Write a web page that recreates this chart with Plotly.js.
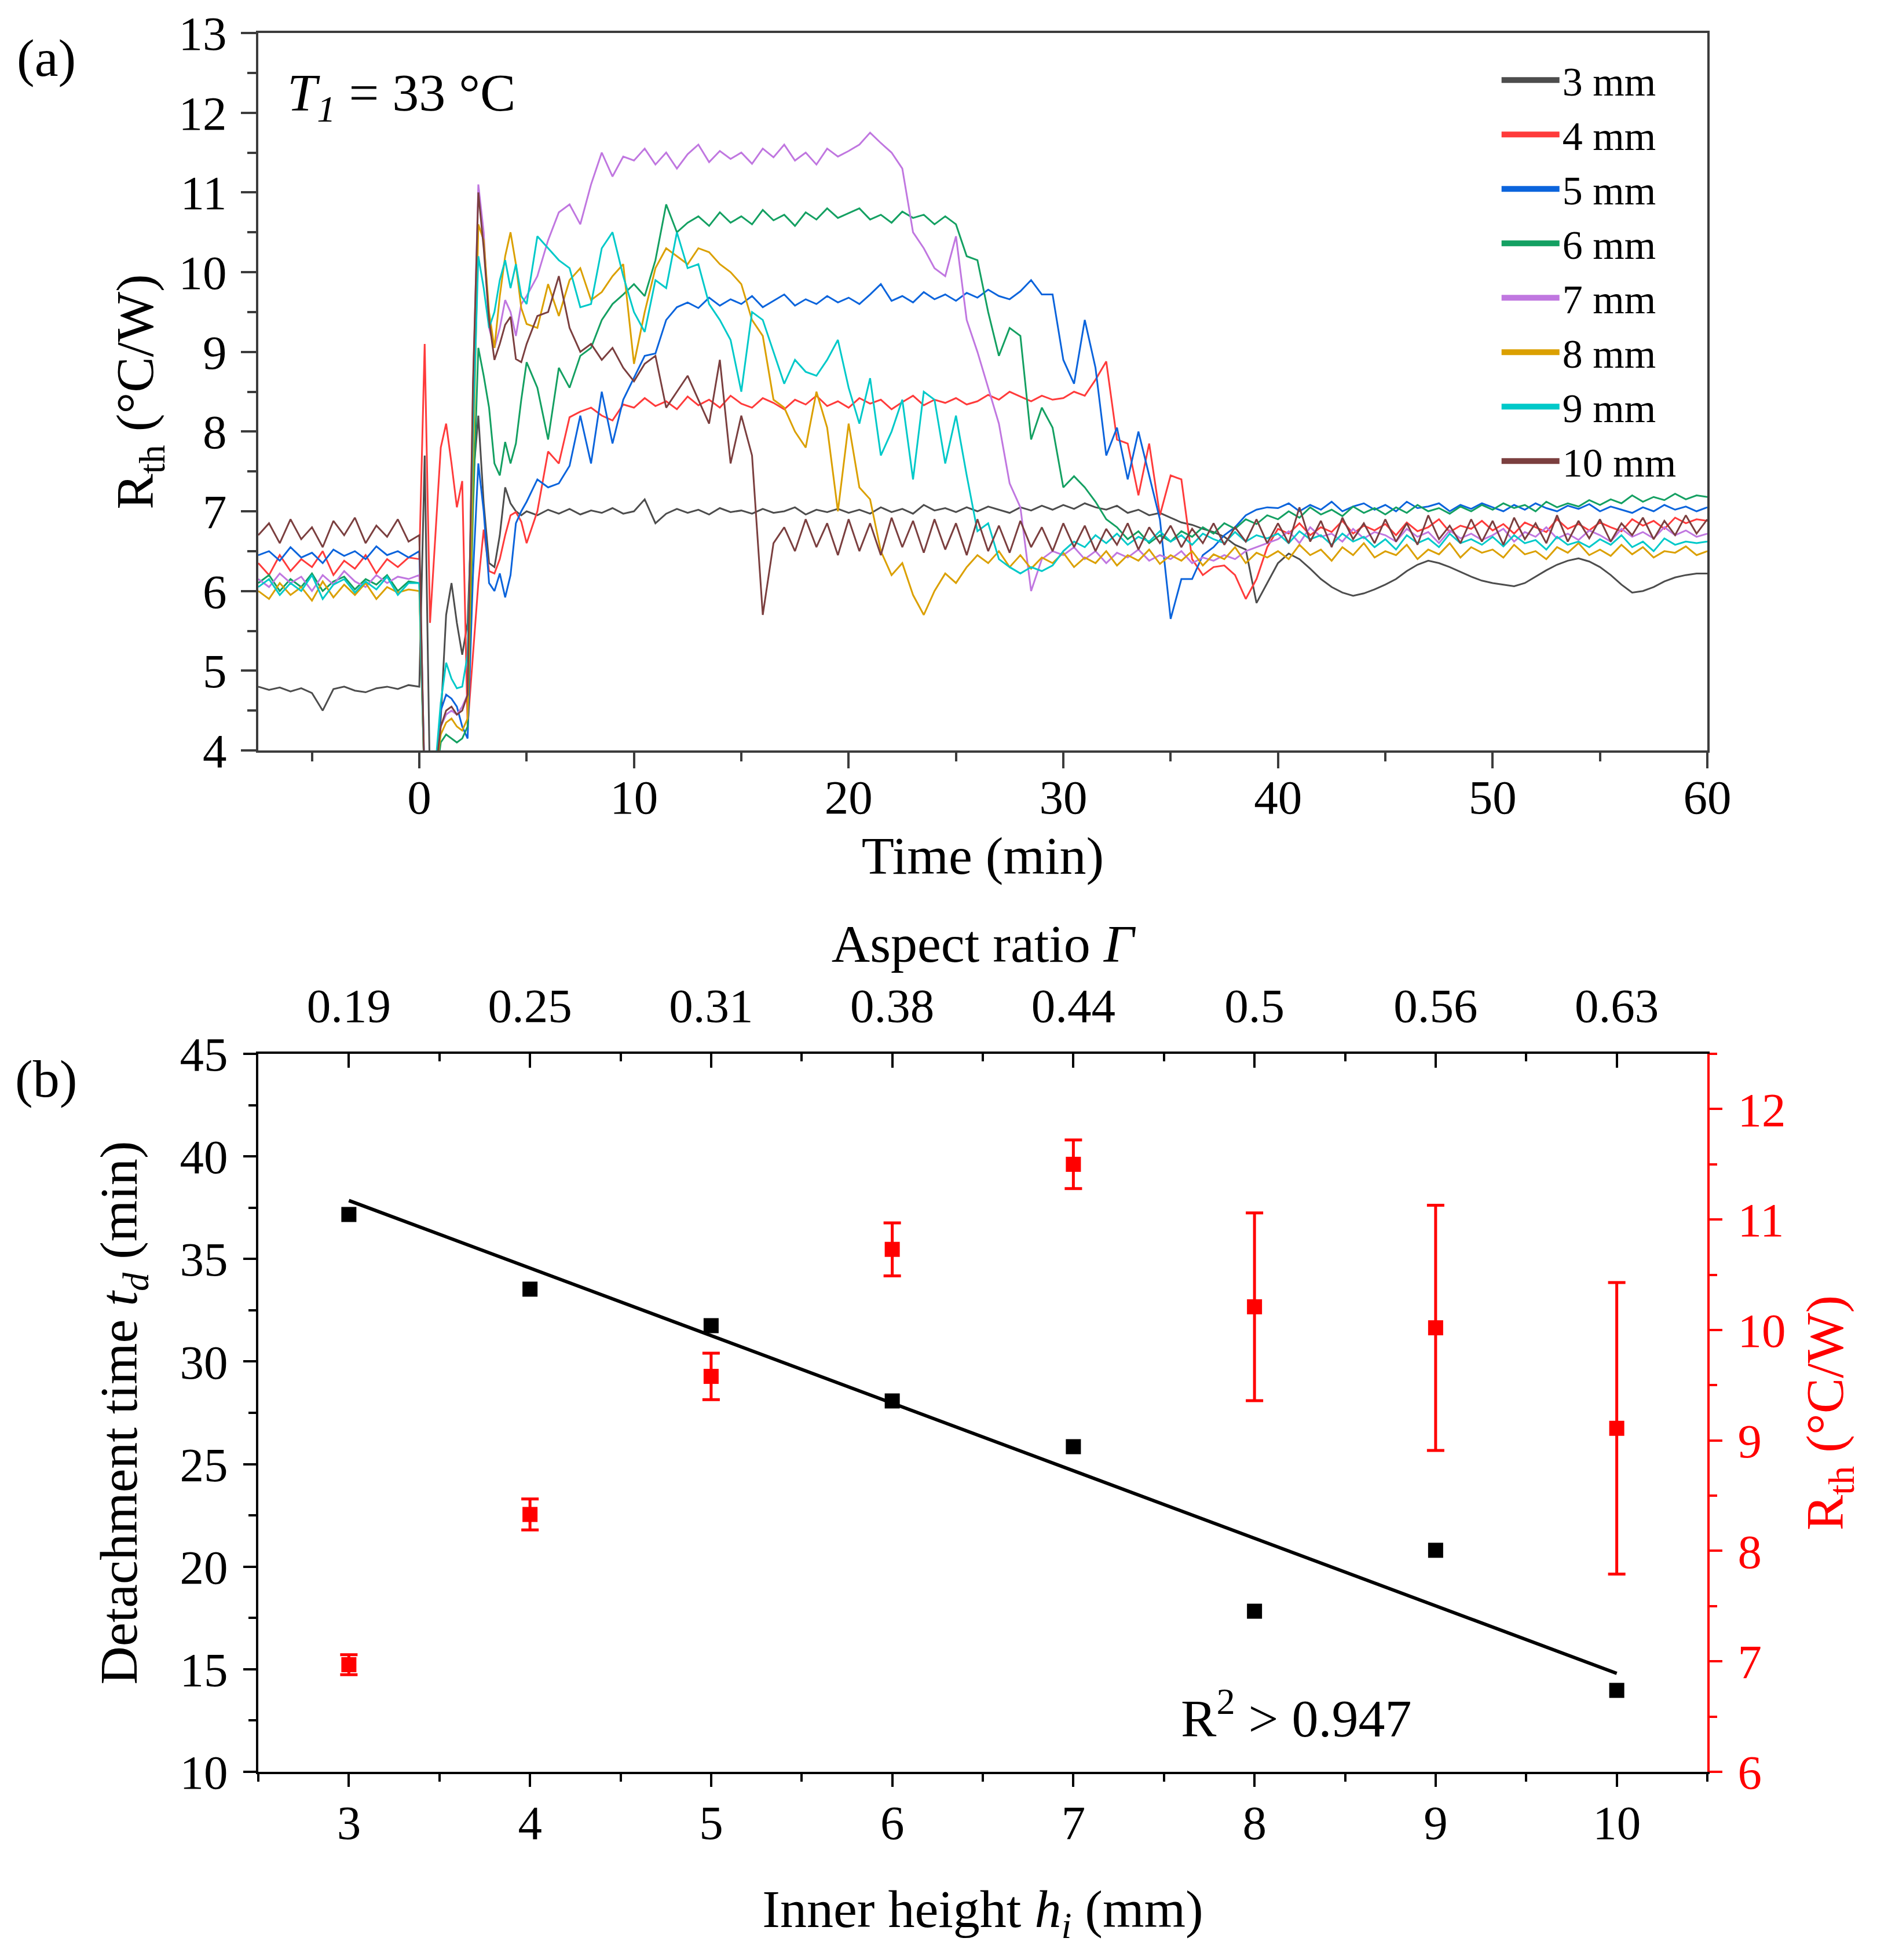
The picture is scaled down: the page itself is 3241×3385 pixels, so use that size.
<!DOCTYPE html>
<html><head><meta charset="utf-8">
<script src="https://cdn.plot.ly/plotly-3.0.1.min.js"></script>
<style>html,body{margin:0;padding:0;background:#fff}#chart{width:3241px;height:3385px}</style>
</head><body><div id="chart"></div>
<script>
// ---------- Panel (a): Rth vs time ----------
const time = [-7.5,-7,-6.5,-6,-5.5,-5,-4.5,-4,-3.5,-3,-2.5,-2,-1.5,-1,-0.5,
0,0.25,0.5,0.75,1,1.25,1.5,1.75,2,2.25,2.5,2.75,3,3.25,3.5,3.75,4,4.25,4.5,4.75,
5,5.5,6,6.5,7,7.5,8,8.5,9,9.5,
10,10.5,11,11.5,12,12.5,13,13.5,14,14.5,
15,15.5,16,16.5,17,17.5,18,18.5,19,19.5,
20,20.5,21,21.5,22,22.5,23,23.5,24,24.5,
25,25.5,26,26.5,27,27.5,28,28.5,29,29.5,
30,30.5,31,31.5,32,32.5,33,33.5,34,34.5,
35,35.5,36,36.5,37,37.5,38,38.5,39,39.5,
40,40.5,41,41.5,42,42.5,43,43.5,44,44.5,
45,45.5,46,46.5,47,47.5,48,48.5,49,49.5,
50,50.5,51,51.5,52,52.5,53,53.5,54,54.5,
55,55.5,56,56.5,57,57.5,58,58.5,59,59.5,
60];

const rth3mm = [4.80,4.76,4.79,4.74,4.78,4.72,4.50,4.77,4.80,4.75,4.73,4.78,4.80,4.77,4.82,
4.80,7.70,3.50,3.60,4.40,5.70,6.10,5.60,5.20,5.60,7.40,8.20,7.10,6.35,6.30,6.70,7.30,7.10,7.00,6.95,
7.00,6.95,7.02,6.97,7.03,6.96,7.01,6.98,7.04,6.97,
7.00,7.15,6.85,6.97,7.03,6.98,7.02,6.96,7.04,6.99,
7.01,6.97,7.03,6.98,7.00,7.05,6.96,7.02,6.99,7.03,
6.98,7.02,6.97,7.05,6.99,7.03,6.97,7.08,7.01,7.04,
6.99,7.05,7.00,7.06,7.02,6.98,7.05,7.01,7.07,7.02,
7.08,7.03,7.10,7.05,7.02,7.07,6.98,7.02,6.95,6.98,
6.92,6.86,6.83,6.78,6.74,6.68,6.58,6.52,5.85,6.10,
6.35,6.47,6.40,6.28,6.15,6.05,5.98,5.94,5.97,6.02,
6.08,6.15,6.25,6.33,6.38,6.35,6.30,6.24,6.18,6.13,
6.10,6.08,6.06,6.10,6.18,6.26,6.33,6.38,6.41,6.37,
6.30,6.20,6.08,5.98,6.00,6.05,6.12,6.17,6.20,6.22,
6.22];

const rth4mm = [6.35,6.20,6.45,6.25,6.40,6.30,6.50,6.20,6.38,6.28,6.45,6.22,6.40,6.30,6.42,
6.40,9.10,5.60,6.70,7.80,8.10,7.60,7.05,7.38,4.30,5.20,6.10,6.77,6.25,6.22,6.40,6.70,6.95,6.99,6.87,
6.60,7.00,7.75,7.60,8.18,8.25,8.30,8.20,8.14,8.34,
8.30,8.42,8.32,8.38,8.28,8.44,8.33,8.40,8.30,8.45,
8.35,8.30,8.42,8.36,8.28,8.40,8.34,8.45,8.32,8.38,
8.30,8.42,8.35,8.40,8.28,8.37,8.45,8.33,8.40,8.36,
8.42,8.34,8.38,8.46,8.40,8.50,8.44,8.38,8.45,8.40,
8.42,8.50,8.45,8.65,8.88,7.90,7.85,7.20,7.85,6.95,
7.45,7.40,6.40,6.20,6.30,6.32,6.20,5.90,6.15,6.55,
6.78,6.72,6.85,6.70,6.80,6.74,6.88,6.72,6.82,6.76,
6.84,6.70,6.86,6.75,6.80,6.90,6.74,6.82,6.78,6.88,
6.76,6.84,6.72,6.86,6.80,6.74,6.90,6.78,6.84,6.76,
6.86,6.80,6.75,6.90,6.82,6.88,6.78,6.92,6.85,6.90,
6.88];

const rth5mm = [6.45,6.50,6.38,6.55,6.42,6.48,6.35,6.52,6.44,6.50,6.40,6.56,6.45,6.50,6.42,
6.50,3.60,3.50,3.70,4.50,4.70,4.65,4.55,4.30,4.15,6.20,7.60,7.00,6.10,6.00,6.22,5.92,6.20,6.85,7.00,
7.12,7.40,7.30,7.35,7.57,8.20,7.60,8.50,7.85,8.40,
8.67,8.95,8.98,9.40,9.56,9.62,9.55,9.68,9.58,9.66,
9.60,9.70,9.56,9.64,9.72,9.58,9.66,9.60,9.70,9.62,
9.68,9.60,9.72,9.85,9.64,9.70,9.62,9.75,9.66,9.72,
9.64,9.74,9.68,9.78,9.70,9.66,9.76,9.90,9.72,9.72,
8.90,8.60,9.40,8.80,7.70,8.05,7.40,8.00,7.45,6.90,
5.65,6.15,6.15,6.45,6.55,6.70,6.80,6.95,7.02,7.05,
7.04,7.10,7.00,7.08,7.02,7.12,7.00,7.06,7.10,7.02,
7.08,7.00,7.12,7.04,7.06,7.10,7.00,7.08,7.03,7.10,
7.05,7.00,7.08,7.02,7.10,7.04,7.00,7.07,7.03,7.09,
7.00,7.06,7.02,6.98,7.05,7.00,7.08,7.02,7.06,7.00,
7.05];

const rth6mm = [6.10,6.20,6.00,6.15,6.05,6.22,6.00,6.12,6.18,6.02,6.15,6.08,6.20,6.00,6.12,
6.10,3.50,3.50,3.60,4.10,4.20,4.15,4.10,4.15,4.30,7.00,9.05,8.70,8.30,7.60,7.45,7.87,7.60,7.85,8.40,
8.87,8.55,7.90,8.80,8.55,8.95,9.05,9.40,9.60,9.72,
9.85,9.70,10.15,10.85,10.50,10.62,10.70,10.58,10.75,10.62,
10.70,10.60,10.78,10.65,10.72,10.58,10.75,10.66,10.80,10.68,
10.74,10.80,10.66,10.72,10.62,10.76,10.68,10.72,10.60,10.70,
10.60,10.20,10.15,9.50,8.95,9.30,9.20,7.90,8.30,8.05,
7.30,7.44,7.30,7.12,6.90,6.80,6.65,6.75,6.60,6.70,
6.62,6.75,6.68,6.80,6.72,6.85,6.78,6.90,6.84,6.95,
6.90,7.00,6.92,7.05,6.96,7.02,6.94,7.06,6.98,7.04,
6.96,7.05,6.98,7.08,7.00,7.04,6.97,7.06,7.00,7.08,
7.02,7.10,7.04,7.08,7.00,7.12,7.05,7.10,7.06,7.14,
7.08,7.15,7.10,7.20,7.12,7.18,7.14,7.22,7.15,7.20,
7.18];

const rth7mm = [6.15,6.05,6.22,6.10,6.18,6.00,6.20,6.08,6.25,6.12,6.05,6.20,6.10,6.18,6.15,
6.20,3.50,3.50,3.80,4.30,4.45,4.50,4.45,4.55,4.70,8.50,11.10,10.50,9.30,9.05,9.30,9.65,9.50,9.20,9.60,
9.70,9.95,10.40,10.75,10.85,10.60,11.10,11.50,11.20,11.45,
11.40,11.55,11.35,11.50,11.30,11.48,11.60,11.38,11.52,11.42,
11.50,11.36,11.55,11.44,11.60,11.40,11.50,11.35,11.55,11.45,
11.52,11.60,11.75,11.62,11.50,11.30,10.50,10.30,10.05,9.95,
10.45,9.40,9.00,8.55,8.10,7.35,7.05,6.00,6.40,6.50,
6.45,6.55,6.40,6.50,6.35,6.48,6.42,6.52,6.38,6.45,
6.40,6.50,6.35,6.42,6.38,6.45,6.40,6.50,6.55,6.60,
6.65,6.75,6.60,6.80,6.68,6.72,6.62,6.78,6.66,6.74,
6.70,6.62,6.78,6.68,6.74,6.60,6.76,6.66,6.72,6.64,
6.70,6.78,6.62,6.74,6.68,6.80,6.66,6.72,6.64,6.76,
6.70,6.62,6.78,6.68,6.74,6.66,6.80,6.70,6.76,6.68,
6.72];

const rth8mm = [6.00,5.90,6.10,5.95,6.05,5.88,6.12,5.92,6.08,5.95,6.10,5.90,6.05,5.98,6.02,
6.00,3.50,3.50,3.70,4.20,4.35,4.40,4.30,4.25,4.40,7.50,10.60,10.40,9.50,9.05,9.70,10.20,10.50,10.10,9.55,
9.35,9.30,9.85,9.45,9.90,10.05,9.65,9.75,9.95,10.10,
8.85,9.50,10.05,10.30,10.20,10.10,10.30,10.25,10.10,10.00,
9.85,9.40,9.20,8.40,8.30,8.00,7.80,8.50,8.05,7.00,
8.10,7.30,7.15,6.50,6.20,6.35,5.95,5.70,6.00,6.22,
6.10,6.30,6.45,6.35,6.50,6.30,6.45,6.28,6.42,6.35,
6.48,6.30,6.42,6.35,6.50,6.32,6.45,6.38,6.52,6.34,
6.45,6.38,6.50,6.32,6.46,6.40,6.55,6.35,6.48,6.42,
6.50,6.40,6.58,6.45,6.52,6.38,6.55,6.45,6.60,6.42,
6.50,6.45,6.58,6.40,6.52,6.46,6.60,6.42,6.55,6.48,
6.52,6.42,6.58,6.46,6.50,6.40,6.55,6.48,6.60,6.45,
6.52,6.44,6.58,6.46,6.55,6.42,6.50,6.48,6.56,6.45,
6.50];

const rth9mm = [6.05,6.15,5.95,6.10,6.00,6.20,5.90,6.08,6.15,5.98,6.12,6.02,6.18,5.95,6.10,
6.10,3.50,3.50,3.80,4.60,5.10,4.90,4.78,4.80,5.20,8.00,10.20,9.80,9.30,9.50,9.90,10.15,9.80,10.10,9.70,
9.60,10.45,10.30,10.15,10.05,9.56,9.60,10.30,10.50,9.95,
9.50,9.25,9.90,9.80,10.50,10.05,10.10,9.60,9.40,9.15,
8.50,9.50,9.40,9.00,8.60,8.90,8.75,8.70,8.90,9.15,
8.55,8.10,8.67,7.70,8.00,8.40,7.40,8.50,8.40,7.60,
8.20,7.45,6.75,6.85,6.40,6.30,6.22,6.30,6.25,6.32,
6.50,6.62,6.55,6.70,6.60,6.72,6.58,6.68,6.62,6.75,
6.62,6.70,6.58,6.72,6.65,6.60,6.74,6.62,6.70,6.66,
6.72,6.60,6.75,6.65,6.70,6.58,6.72,6.62,6.68,6.55,
6.65,6.52,6.70,6.60,6.66,6.55,6.72,6.60,6.65,6.58,
6.68,6.56,6.70,6.60,6.64,6.52,6.68,6.58,6.62,6.55,
6.65,6.58,6.70,6.55,6.62,6.50,6.66,6.58,6.62,6.60,
6.62];

const rth10mm = [6.70,6.85,6.60,6.90,6.65,6.80,6.55,6.88,6.70,6.92,6.60,6.82,6.68,6.90,6.62,
6.70,3.50,3.50,3.70,4.30,4.50,4.55,4.45,4.50,4.70,8.60,11.00,10.30,9.40,8.90,9.10,9.34,9.44,8.91,8.87,
9.10,9.45,9.50,9.95,9.30,9.00,9.10,8.90,9.05,8.80,
8.63,8.85,8.95,8.30,8.50,8.70,8.40,8.10,8.90,7.60,
8.20,7.70,5.70,6.60,6.80,6.50,6.90,6.55,6.85,6.45,
6.90,6.50,6.85,6.45,6.92,6.55,6.88,6.48,6.90,6.52,
6.85,6.45,6.90,6.50,6.82,6.48,6.88,6.55,6.80,6.50,
6.85,6.55,6.82,6.50,6.78,6.58,6.85,6.52,6.80,6.60,
6.82,6.55,6.78,6.60,6.85,6.58,6.80,6.62,6.90,6.60,
6.85,6.60,7.05,6.62,6.88,6.55,6.92,6.65,6.85,6.60,
6.90,6.62,6.85,6.58,6.95,6.65,6.82,6.60,6.90,6.62,
6.88,6.58,6.92,6.65,6.85,6.60,6.95,6.62,6.88,6.66,
6.90,6.62,6.85,6.70,6.92,6.65,6.88,6.70,6.95,6.72,
6.90];

const seriesNames = ['3 mm','4 mm','5 mm','6 mm','7 mm','8 mm','9 mm','10 mm'];
const seriesValues = [rth3mm,rth4mm,rth5mm,rth6mm,rth7mm,rth8mm,rth9mm,rth10mm];
const seriesColors = ['#4d4d4d','#ff3b3b','#0b64dc','#14a062','#c077e0','#dba000','#00c9c9','#7b3f3f'];

// ---------- Panel (b) ----------
const innerHeight = [3,4,5,6,7,8,9,10];
const aspectLabels = ['0.19','0.25','0.31','0.38','0.44','0.5','0.56','0.63'];
const detachTime = [37.17,33.53,31.75,28.08,25.85,17.83,20.8,13.97];
const rthMean = [6.97,8.33,9.58,10.73,11.5,10.21,10.02,9.11];
const rthErr = [0.09,0.14,0.21,0.24,0.22,0.85,1.11,1.32];
const fitX = [3,10];
const fitY = [37.85,14.8];

const FONT = 'Liberation Serif, Times New Roman, serif';
const traces = [];
seriesValues.forEach((vals,i)=>{
  traces.push({x:time,y:vals,type:'scatter',mode:'lines',xaxis:'x',yaxis:'y',
    line:{color:seriesColors[i],width:3},showlegend:false,hoverinfo:'skip'});
});
seriesNames.forEach((nm,i)=>{
  traces.push({x:[null],y:[null],type:'scatter',mode:'lines',xaxis:'x',yaxis:'y',
    name:nm,line:{color:seriesColors[i],width:12},showlegend:true});
});
traces.push({x:fitX,y:fitY,type:'scatter',mode:'lines',xaxis:'x2',yaxis:'y2',
  line:{color:'#000',width:6},showlegend:false});
traces.push({x:innerHeight,y:detachTime,type:'scatter',mode:'markers',xaxis:'x2',yaxis:'y2',
  marker:{symbol:'square',size:26,color:'#000'},showlegend:false});
traces.push({x:innerHeight,y:rthMean,type:'scatter',mode:'markers',xaxis:'x3',yaxis:'y3',
  marker:{symbol:'square',size:26,color:'#ff0000'},
  error_y:{type:'data',array:rthErr,visible:true,color:'#ff0000',thickness:5,width:15},
  showlegend:false});

const tickF = {family:FONT,size:83,color:'#000'};
const titleF = {family:FONT,size:92,color:'#000'};
const gA = '#3c3c3c';
function minorCfg(d,color,len,dir){return {dtick:d,ticklen:len,tickwidth:4,tickcolor:color,ticks:dir};}

const layout = {
  width:3241,height:3385,paper_bgcolor:'#fff',plot_bgcolor:'#fff',
  margin:{l:446,r:293,t:57,b:325},
  font:{family:FONT,color:'#000'},
  showlegend:true,
  legend:{x:0.856,y:0.9903,xanchor:'left',yanchor:'top',bgcolor:'rgba(0,0,0,0)',
    font:{family:FONT,size:70,color:'#000'},itemwidth:100,tracegroupgap:0},
  xaxis:{domain:[0,1],anchor:'y',range:[-7.5,60],tickmode:'linear',tick0:0,dtick:10,
    showline:true,mirror:true,linecolor:gA,linewidth:4,ticks:'outside',ticklen:27,tickwidth:4,tickcolor:gA,
    minor:minorCfg(5,gA,15,'outside'),showgrid:false,zeroline:false,tickfont:tickF,ticklabelstandoff:-22,
    title:{text:'Time (min)',font:titleF,standoff:24}},
  yaxis:{domain:[0.5874,1],anchor:'x',range:[4,13],tickmode:'linear',tick0:4,dtick:1,
    showline:true,mirror:true,linecolor:gA,linewidth:4,ticks:'outside',ticklen:26,tickwidth:4,tickcolor:gA,
    minor:minorCfg(0.5,gA,15,'outside'),showgrid:false,zeroline:false,tickfont:tickF,ticklabelstandoff:8,
    title:{text:'R<sub>th</sub> (°C/W)',font:titleF,standoff:14}},
  xaxis2:{domain:[0,1],anchor:'y2',range:[2.5,10.5],tickmode:'linear',tick0:3,dtick:1,
    showline:true,linecolor:'#000',linewidth:4,ticks:'outside',ticklen:22,tickwidth:4,tickcolor:'#000',
    minor:minorCfg(0.5,'#000',13,'outside'),showgrid:false,zeroline:false,tickfont:tickF,ticklabelstandoff:-10,
    title:{text:'Inner height <i>h<sub>i</sub></i> (mm)',font:titleF,standoff:72}},
  yaxis2:{domain:[0,0.4129],anchor:'x2',range:[10,45],tickmode:'linear',tick0:10,dtick:5,
    showline:true,linecolor:'#000',linewidth:4,ticks:'outside',ticklen:22,tickwidth:4,tickcolor:'#000',
    minor:minorCfg(2.5,'#000',13,'outside'),showgrid:false,zeroline:false,tickfont:tickF,ticklabelstandoff:10,
    title:{text:'Detachment time <i>t<sub>d</sub></i> (min)',font:titleF,standoff:44}},
  xaxis3:{overlaying:'x2',side:'top',anchor:'y2',range:[2.5,10.5],tickmode:'array',tickvals:innerHeight,ticktext:aspectLabels,
    showline:true,linecolor:'#000',linewidth:4,ticks:'inside',ticklen:24,tickwidth:4,tickcolor:'#000',
    minor:{tickmode:'linear',tick0:2.5,dtick:0.5,ticklen:13,tickwidth:4,tickcolor:'#000',ticks:'inside'},
    showgrid:false,zeroline:false,tickfont:tickF,ticklabelstandoff:18,
    title:{text:'Aspect ratio <i>Γ</i>',font:titleF,standoff:0}},
  yaxis3:{overlaying:'y2',side:'right',anchor:'x3',range:[6,12.5],tickmode:'linear',tick0:6,dtick:1,
    showline:true,linecolor:'#ff0000',linewidth:4,ticks:'outside',ticklen:22,tickwidth:4,tickcolor:'#ff0000',
    minor:minorCfg(0.5,'#ff0000',13,'outside'),showgrid:false,zeroline:false,
    tickfont:{family:FONT,size:83,color:'#ff0000'},ticklabelstandoff:10,
    title:{text:'R<sub>th</sub> (°C/W)',font:{family:FONT,size:92,color:'#ff0000'},standoff:36}},
  annotations:[
    {xref:'paper',yref:'paper',x:-0.1463,y:0.9857,text:'(a)',showarrow:false,xanchor:'center',yanchor:'middle',font:titleF},
    {xref:'paper',yref:'paper',x:-0.1463,y:0.3986,text:'(b)',showarrow:false,xanchor:'center',yanchor:'middle',font:titleF},
    {xref:'paper',yref:'paper',x:0.0192,y:0.9634,text:'<i>T<sub>1</sub></i> = 33 °C',showarrow:false,xanchor:'left',yanchor:'middle',font:titleF},
    {xref:'paper',yref:'paper',x:0.7162,y:0.033,text:'R<sup>2</sup> &gt; 0.947',showarrow:false,xanchor:'center',yanchor:'middle',font:titleF}
  ]
};

Plotly.newPlot('chart',traces,layout,{staticPlot:true,displayModeBar:false});
</script></body></html>
